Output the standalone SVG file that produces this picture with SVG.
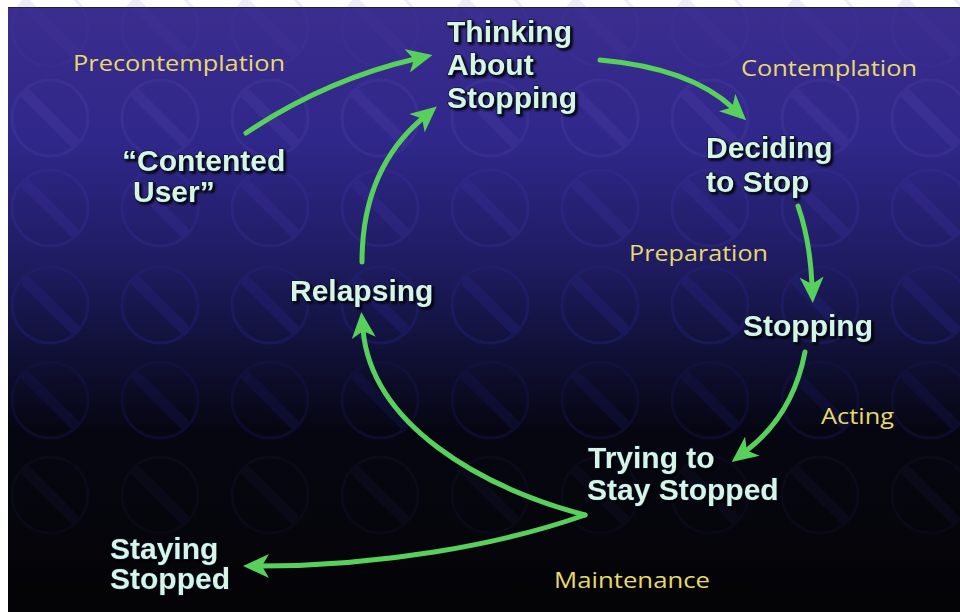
<svg xmlns="http://www.w3.org/2000/svg" width="960" height="612" viewBox="0 0 960 612">
<defs>
<linearGradient id="bg" x1="0" y1="0" x2="0" y2="1">
<stop offset="0" stop-color="#3a2d8e"/>
<stop offset="0.22" stop-color="#30278a"/>
<stop offset="0.42" stop-color="#1f1c62"/>
<stop offset="0.56" stop-color="#11113a"/>
<stop offset="0.7" stop-color="#060612"/>
<stop offset="1" stop-color="#040406"/>
</linearGradient>
<filter id="sh" x="-10%" y="-20%" width="130%" height="150%">
<feDropShadow dx="2" dy="2" stdDeviation="1" flood-color="#000" flood-opacity="0.9"/>
</filter>
<marker id="ah" viewBox="0 0 26 24" refX="8" refY="12" markerWidth="26" markerHeight="24" markerUnits="userSpaceOnUse" orient="auto">
<path d="M0,0 L26,12 L0,24 L7,12 Z" fill="#58d05c"/>
</marker>
<g id="no">
<circle r="38" fill="none" stroke-width="3"/>
<line x1="-26" y1="-26" x2="26" y2="26" stroke-width="11"/>
</g>
</defs>
<style>
.node{font-family:"Liberation Sans",Arial,sans-serif;font-weight:bold;font-size:30px;fill:#d6f5e6;stroke:#0c1a30;stroke-width:1.5;paint-order:stroke;filter:url(#sh)}
.stage{font-family:"Open Sans","Noto Sans",sans-serif;font-size:22px;fill:#e6da6c}
.arr{fill:none;stroke:#58d05c;stroke-width:5;stroke-linecap:round;marker-end:url(#ah)}
.p0{stroke:#5848b0;opacity:0.1}
.p1{stroke:#5848b0;opacity:0.22}
.p2{stroke:#3a2f96;opacity:0.35}
.p3{stroke:#222278;opacity:0.45}
.p4{stroke:#14144a;opacity:0.45}
.p5{stroke:#0e0e22;opacity:0.5}
</style>
<rect x="0" y="0" width="960" height="612" fill="#ffffff"/>
<rect x="8" y="7" width="952" height="605" fill="url(#bg)"/>
<line x1="8" y1="7.5" x2="960" y2="7.5" stroke="#222" stroke-width="1"/>
<g id="pattern">
<g class="p0">
<use href="#no" x="50" y="28"/><use href="#no" x="160" y="28"/><use href="#no" x="270" y="28"/><use href="#no" x="380" y="28"/><use href="#no" x="490" y="28"/><use href="#no" x="600" y="28"/><use href="#no" x="710" y="28"/><use href="#no" x="820" y="28"/><use href="#no" x="930" y="28"/>
</g>
<g class="p1">
<use href="#no" x="50" y="118"/><use href="#no" x="160" y="118"/><use href="#no" x="270" y="118"/><use href="#no" x="380" y="118"/><use href="#no" x="490" y="118"/><use href="#no" x="600" y="118"/><use href="#no" x="710" y="118"/><use href="#no" x="820" y="118"/><use href="#no" x="930" y="118"/>
</g>
<g class="p2">
<use href="#no" x="50" y="208"/><use href="#no" x="160" y="208"/><use href="#no" x="270" y="208"/><use href="#no" x="380" y="208"/><use href="#no" x="490" y="208"/><use href="#no" x="600" y="208"/><use href="#no" x="710" y="208"/><use href="#no" x="820" y="208"/><use href="#no" x="930" y="208"/>
</g>
<g class="p3">
<use href="#no" x="50" y="305"/><use href="#no" x="160" y="305"/><use href="#no" x="270" y="305"/><use href="#no" x="380" y="305"/><use href="#no" x="490" y="305"/><use href="#no" x="600" y="305"/><use href="#no" x="710" y="305"/><use href="#no" x="820" y="305"/><use href="#no" x="930" y="305"/>
</g>
<g class="p4">
<use href="#no" x="50" y="400"/><use href="#no" x="160" y="400"/><use href="#no" x="270" y="400"/><use href="#no" x="380" y="400"/><use href="#no" x="490" y="400"/><use href="#no" x="600" y="400"/><use href="#no" x="710" y="400"/><use href="#no" x="820" y="400"/><use href="#no" x="930" y="400"/>
</g>
<g class="p5">
<use href="#no" x="50" y="495"/><use href="#no" x="160" y="495"/><use href="#no" x="270" y="495"/><use href="#no" x="380" y="495"/><use href="#no" x="490" y="495"/><use href="#no" x="600" y="495"/><use href="#no" x="710" y="495"/><use href="#no" x="820" y="495"/><use href="#no" x="930" y="495"/>
</g>
</g>
<g id="connectors">
<path class="arr" d="M246,133 Q325,80 415,59"/>
<path class="arr" d="M362,262 C362,195 385,150 423,118"/>
<path class="arr" d="M600,60 Q690,68 733,108"/>
<path class="arr" d="M798,206 Q810,240 812,285"/>
<path class="arr" d="M805,352 Q793,415 746,451"/>
<path class="arr" d="M585,515 C480,487 372,425 363,330"/>
<path class="arr" d="M585,515 C500,545 380,566 261,566"/>
</g>
<g id="stage-labels">
<text class="stage" x="73" y="71" textLength="212" lengthAdjust="spacingAndGlyphs">Precontemplation</text>
<text class="stage" x="741" y="76" textLength="176" lengthAdjust="spacingAndGlyphs">Contemplation</text>
<text class="stage" x="629" y="261" textLength="139" lengthAdjust="spacingAndGlyphs">Preparation</text>
<text class="stage" x="821" y="424" textLength="73" lengthAdjust="spacingAndGlyphs">Acting</text>
<text class="stage" x="554" y="588" textLength="156" lengthAdjust="spacingAndGlyphs">Maintenance</text>
</g>
<g id="node-thinking"><text class="node" x="447" y="42">Thinking</text><text class="node" x="447" y="75">About</text><text class="node" x="447" y="108">Stopping</text></g>
<g id="node-contented"><text class="node" x="122" y="171">“Contented</text><text class="node" x="133" y="202">User”</text></g>
<g id="node-deciding"><text class="node" x="706" y="158">Deciding</text><text class="node" x="706" y="192">to Stop</text></g>
<g id="node-relapsing"><text class="node" x="290" y="301">Relapsing</text></g>
<g id="node-stopping"><text class="node" x="743" y="336">Stopping</text></g>
<g id="node-trying"><text class="node" x="588" y="468">Trying to</text><text class="node" x="587" y="500">Stay Stopped</text></g>
<g id="node-staying"><text class="node" x="110" y="559">Staying</text><text class="node" x="110" y="589">Stopped</text></g>
</svg>
